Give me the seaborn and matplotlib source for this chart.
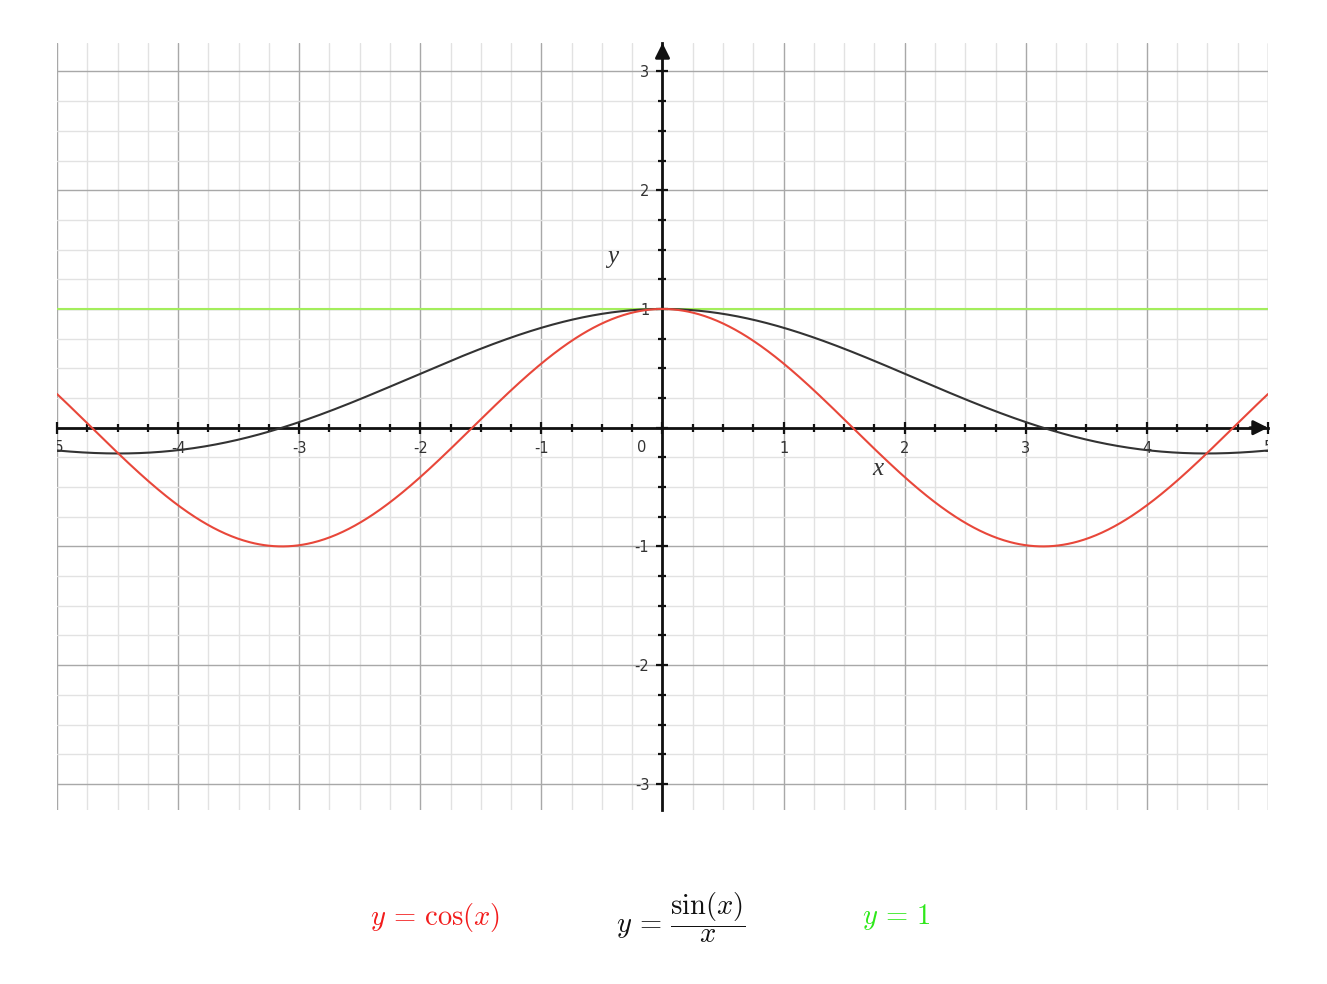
import numpy as np
import pandas as pd
import matplotlib
matplotlib.use("Agg")
import matplotlib.pyplot as plt
import seaborn as sns
from matplotlib.ticker import MultipleLocator, FuncFormatter

sns.set_style("white")
plt.rcParams["axes.unicode_minus"] = False
plt.rcParams["mathtext.fontset"] = "cm"

# curves as labelled under the chart
x_values = np.linspace(-5, 5, 1001)
cos_values = np.cos(x_values)
sinc_values = np.sinc(x_values / np.pi)
one_values = np.ones_like(x_values)

labels = [r"$y\,=\,\cos(x)$", r"$y\,=\,\dfrac{\sin(x)}{x}$", r"$y\,=\,1$"]
label_x = [0.328, 0.513, 0.675]
curve_colors = ["#e8473a", "#333333", "#a3ee5c"]
label_colors = ["#f21c1c", "#111111", "#2ee81a"]

df = pd.DataFrame({"x": x_values, "cos": cos_values,
                   "sinc": sinc_values, "one": one_values})

fig = plt.figure(figsize=(13.27, 9.84), dpi=100)
ax = fig.add_axes([0.04295, 0.17683, 0.91259, 0.77947])

ax.set_xlim(-5, 5)
ax.set_ylim(-3.22, 3.24)

ax.xaxis.set_major_locator(MultipleLocator(1))
ax.yaxis.set_major_locator(MultipleLocator(1))
ax.xaxis.set_minor_locator(MultipleLocator(0.25))
ax.yaxis.set_minor_locator(MultipleLocator(0.25))
ax.grid(True, which="major", color="#a8a8a8", lw=1.0)
ax.grid(True, which="minor", color="#e2e2e2", lw=1.0)
ax.set_axisbelow(True)

sns.lineplot(data=df, x="x", y="one", color=curve_colors[2], lw=1.5, ax=ax)
sns.lineplot(data=df, x="x", y="sinc", color=curve_colors[1], lw=1.5, ax=ax)
sns.lineplot(data=df, x="x", y="cos", color=curve_colors[0], lw=1.5, ax=ax)
ax.set_xlabel("")
ax.set_ylabel("")

# axes through the origin
for side in ["right", "top"]:
    ax.spines[side].set_visible(False)
for side in ["left", "bottom"]:
    ax.spines[side].set_position(("data", 0))
    ax.spines[side].set_color("#111111")
    ax.spines[side].set_linewidth(2)
    ax.spines[side].set_zorder(1.5)

ax.annotate("", xy=(1, 0), xycoords=("axes fraction", "data"),
            xytext=(0.985, 0), textcoords=("axes fraction", "data"),
            arrowprops=dict(arrowstyle="-|>", color="#111111", lw=2,
                            mutation_scale=22, shrinkA=0, shrinkB=0))
ax.annotate("", xy=(0, 1), xycoords=("data", "axes fraction"),
            xytext=(0, 0.98), textcoords=("data", "axes fraction"),
            arrowprops=dict(arrowstyle="-|>", color="#111111", lw=2,
                            mutation_scale=22, shrinkA=0, shrinkB=0))

fmt = FuncFormatter(lambda v, p: "" if abs(v) < 1e-9 or abs(v) > 4.5 else f"{v:.0f}")
ax.xaxis.set_major_formatter(fmt)
ax.yaxis.set_major_formatter(fmt)
ax.tick_params(which="both", bottom=True, left=True, top=False, right=False)
ax.tick_params(which="major", direction="inout", length=9, width=1.6,
               color="#111111", labelsize=10.5, labelcolor="#333333", pad=5)
ax.tick_params(which="minor", direction="inout", length=5.5, width=1.6,
               color="#111111")

ax.text(-0.17, -0.165, "0", fontsize=10.5, color="#333333", ha="center", va="center")
ax.text(-5, -0.165, "-5", fontsize=10.5, color="#333333", ha="center", va="center", clip_on=True)
ax.text(5, -0.165, "5", fontsize=10.5, color="#333333", ha="center", va="center", clip_on=True)

ax.text(1.78, -0.35, "x", family="Liberation Serif", style="italic",
        fontsize=18, color="#333333", ha="center", va="center")
ax.text(-0.41, 1.44, "y", family="Liberation Serif", style="italic",
        fontsize=18, color="#333333", ha="center", va="center")

for text, xpos, col in zip(labels, label_x, label_colors):
    fig.text(xpos, 0.068, text, color=col, fontsize=20.5, ha="center", va="center")

fig.savefig("out.png", dpi=100)
plt.close()
